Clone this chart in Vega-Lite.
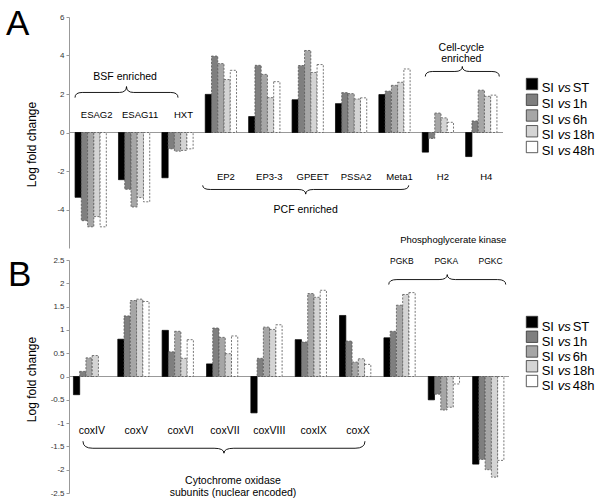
{
  "$schema": "https://vega.github.io/schema/vega-lite/v6.json",
  "padding": {"left": 5, "top": 7, "right": 0, "bottom": 0},
  "config": {"view": {"stroke": null}, "font": "Liberation Sans"},
  "datasets": {
    "A": [
      {"gene": "ESAG2", "series": "SI vs ST", "value": -3.37},
      {"gene": "ESAG2", "series": "SI vs 1h", "value": -4.58},
      {"gene": "ESAG2", "series": "SI vs 6h", "value": -4.9},
      {"gene": "ESAG2", "series": "SI vs 18h", "value": -4.37},
      {"gene": "ESAG2", "series": "SI vs 48h", "value": -4.9},
      {"gene": "ESAG11", "series": "SI vs ST", "value": -2.45},
      {"gene": "ESAG11", "series": "SI vs 1h", "value": -2.95},
      {"gene": "ESAG11", "series": "SI vs 6h", "value": -3.87},
      {"gene": "ESAG11", "series": "SI vs 18h", "value": -3.38},
      {"gene": "ESAG11", "series": "SI vs 48h", "value": -3.6},
      {"gene": "HXT", "series": "SI vs ST", "value": -2.35},
      {"gene": "HXT", "series": "SI vs 1h", "value": -0.85},
      {"gene": "HXT", "series": "SI vs 6h", "value": -0.97},
      {"gene": "HXT", "series": "SI vs 18h", "value": -0.93},
      {"gene": "HXT", "series": "SI vs 48h", "value": -0.85},
      {"gene": "EP2", "series": "SI vs ST", "value": 1.98},
      {"gene": "EP2", "series": "SI vs 1h", "value": 3.97},
      {"gene": "EP2", "series": "SI vs 6h", "value": 3.58},
      {"gene": "EP2", "series": "SI vs 18h", "value": 2.75},
      {"gene": "EP2", "series": "SI vs 48h", "value": 3.23},
      {"gene": "EP3-3", "series": "SI vs ST", "value": 0.83},
      {"gene": "EP3-3", "series": "SI vs 1h", "value": 3.49},
      {"gene": "EP3-3", "series": "SI vs 6h", "value": 3.02},
      {"gene": "EP3-3", "series": "SI vs 18h", "value": 1.81},
      {"gene": "EP3-3", "series": "SI vs 48h", "value": 2.64},
      {"gene": "GPEET", "series": "SI vs ST", "value": 1.7},
      {"gene": "GPEET", "series": "SI vs 1h", "value": 3.48},
      {"gene": "GPEET", "series": "SI vs 6h", "value": 4.26},
      {"gene": "GPEET", "series": "SI vs 18h", "value": 3.12},
      {"gene": "GPEET", "series": "SI vs 48h", "value": 3.53},
      {"gene": "PSSA2", "series": "SI vs ST", "value": 1.5},
      {"gene": "PSSA2", "series": "SI vs 1h", "value": 2.07},
      {"gene": "PSSA2", "series": "SI vs 6h", "value": 2.02},
      {"gene": "PSSA2", "series": "SI vs 18h", "value": 1.74},
      {"gene": "PSSA2", "series": "SI vs 48h", "value": 1.8},
      {"gene": "Meta1", "series": "SI vs ST", "value": 1.97},
      {"gene": "Meta1", "series": "SI vs 1h", "value": 2.15},
      {"gene": "Meta1", "series": "SI vs 6h", "value": 2.45},
      {"gene": "Meta1", "series": "SI vs 18h", "value": 2.61},
      {"gene": "Meta1", "series": "SI vs 48h", "value": 3.3},
      {"gene": "H2", "series": "SI vs ST", "value": -1.02},
      {"gene": "H2", "series": "SI vs 1h", "value": -0.31},
      {"gene": "H2", "series": "SI vs 6h", "value": 1.01},
      {"gene": "H2", "series": "SI vs 18h", "value": 0.76},
      {"gene": "H2", "series": "SI vs 48h", "value": 0.53},
      {"gene": "H4", "series": "SI vs ST", "value": -1.25},
      {"gene": "H4", "series": "SI vs 1h", "value": 0.6},
      {"gene": "H4", "series": "SI vs 6h", "value": 2.2},
      {"gene": "H4", "series": "SI vs 18h", "value": 1.88},
      {"gene": "H4", "series": "SI vs 48h", "value": 1.94}
    ],
    "B": [
      {"gene": "coxIV", "series": "SI vs ST", "value": -0.39},
      {"gene": "coxIV", "series": "SI vs 1h", "value": 0.11},
      {"gene": "coxIV", "series": "SI vs 6h", "value": 0.4},
      {"gene": "coxIV", "series": "SI vs 18h", "value": 0.45},
      {"gene": "coxV", "series": "SI vs ST", "value": 0.8},
      {"gene": "coxV", "series": "SI vs 1h", "value": 1.3},
      {"gene": "coxV", "series": "SI vs 6h", "value": 1.63},
      {"gene": "coxV", "series": "SI vs 18h", "value": 1.66},
      {"gene": "coxV", "series": "SI vs 48h", "value": 1.61},
      {"gene": "coxVI", "series": "SI vs ST", "value": 0.99},
      {"gene": "coxVI", "series": "SI vs 1h", "value": 0.53},
      {"gene": "coxVI", "series": "SI vs 6h", "value": 0.97},
      {"gene": "coxVI", "series": "SI vs 18h", "value": 0.39},
      {"gene": "coxVI", "series": "SI vs 48h", "value": 0.79},
      {"gene": "coxVII", "series": "SI vs ST", "value": 0.27},
      {"gene": "coxVII", "series": "SI vs 1h", "value": 1.04},
      {"gene": "coxVII", "series": "SI vs 6h", "value": 0.84},
      {"gene": "coxVII", "series": "SI vs 18h", "value": 0.49},
      {"gene": "coxVII", "series": "SI vs 48h", "value": 0.87},
      {"gene": "coxVIII", "series": "SI vs ST", "value": -0.78},
      {"gene": "coxVIII", "series": "SI vs 1h", "value": 0.39},
      {"gene": "coxVIII", "series": "SI vs 6h", "value": 1.06},
      {"gene": "coxVIII", "series": "SI vs 18h", "value": 1.01},
      {"gene": "coxVIII", "series": "SI vs 48h", "value": 1.11},
      {"gene": "coxIX", "series": "SI vs ST", "value": 0.79},
      {"gene": "coxIX", "series": "SI vs 1h", "value": 0.74},
      {"gene": "coxIX", "series": "SI vs 6h", "value": 1.78},
      {"gene": "coxIX", "series": "SI vs 18h", "value": 1.7},
      {"gene": "coxIX", "series": "SI vs 48h", "value": 1.85},
      {"gene": "coxX", "series": "SI vs ST", "value": 1.31},
      {"gene": "coxX", "series": "SI vs 1h", "value": 0.76},
      {"gene": "coxX", "series": "SI vs 6h", "value": 0.31},
      {"gene": "coxX", "series": "SI vs 18h", "value": 0.38},
      {"gene": "coxX", "series": "SI vs 48h", "value": 0.26},
      {"gene": "PGKB", "series": "SI vs ST", "value": 0.83},
      {"gene": "PGKB", "series": "SI vs 1h", "value": 0.97},
      {"gene": "PGKB", "series": "SI vs 6h", "value": 1.53},
      {"gene": "PGKB", "series": "SI vs 18h", "value": 1.76},
      {"gene": "PGKB", "series": "SI vs 48h", "value": 1.8},
      {"gene": "PGKA", "series": "SI vs ST", "value": -0.5},
      {"gene": "PGKA", "series": "SI vs 1h", "value": -0.38},
      {"gene": "PGKA", "series": "SI vs 6h", "value": -0.72},
      {"gene": "PGKA", "series": "SI vs 18h", "value": -0.66},
      {"gene": "PGKA", "series": "SI vs 48h", "value": -0.16},
      {"gene": "PGKC", "series": "SI vs ST", "value": -1.88},
      {"gene": "PGKC", "series": "SI vs 1h", "value": -1.78},
      {"gene": "PGKC", "series": "SI vs 6h", "value": -2.0},
      {"gene": "PGKC", "series": "SI vs 18h", "value": -2.16},
      {"gene": "PGKC", "series": "SI vs 48h", "value": -1.8}
    ],
    "legend": [
      {"series": "SI vs ST", "pre": "SI", "mid": "vs", "post": "ST"},
      {"series": "SI vs 1h", "pre": "SI", "mid": "vs", "post": "1h"},
      {"series": "SI vs 6h", "pre": "SI", "mid": "vs", "post": "6h"},
      {"series": "SI vs 18h", "pre": "SI", "mid": "vs", "post": "18h"},
      {"series": "SI vs 48h", "pre": "SI", "mid": "vs", "post": "48h"}
    ]
  },
  "columns": 2,
  "bounds": "flush",
  "spacing": {"row": 12, "column": 17},
  "concat": [
    {
      "width": 434,
      "height": 231,
      "data": {"name": "A"},
      "layer": [
        {
          "data": {"values": [{}]},
          "mark": {"type": "rule", "color": "#999999", "strokeWidth": 1},
          "encoding": {"y": {"datum": 0}}
        },
        {
          "mark": {"type": "bar", "strokeWidth": 0.8},
          "encoding": {
            "x": {"field": "gene", "type": "nominal", "scale": {"domain": ["ESAG2", "ESAG11", "HXT", "EP2", "EP3-3", "GPEET", "PSSA2", "Meta1", "H2", "H4"], "paddingInner": 0.28, "paddingOuter": 0.14}, "axis": null},
            "xOffset": {"field": "series", "type": "nominal", "scale": {"domain": ["SI vs ST", "SI vs 1h", "SI vs 6h", "SI vs 18h", "SI vs 48h"]}},
            "y": {"field": "value", "type": "quantitative", "scale": {"domain": [-6, 6], "nice": false},
              "axis": {"values": [-4, -2, 0, 2, 4, 6], "tickCount": 12, "labelOverlap": false, "labelExpr": "'' + datum.value", "grid": false, "title": "Log fold change", "titleFontSize": 12, "titleFontWeight": "normal", "titleColor": "#000000", "titleX": -31, "titleY": 127, "titleAlign": "center", "titleBaseline": "bottom", "labelFontSize": 8, "labelColor": "#333333", "labelPadding": 2, "tickSize": 3, "tickColor": "#999999", "domainColor": "#999999"}},
            "fill": {"field": "series", "type": "nominal", "scale": {"domain": ["SI vs ST", "SI vs 1h", "SI vs 6h", "SI vs 18h", "SI vs 48h"], "range": ["#000000", "#7f7f7f", "#a6a6a6", "#d4d4d4", "#ffffff"]}, "legend": null},
            "stroke": {"condition": {"test": "datum.series === 'SI vs ST'", "value": "#000000"}, "value": "#555555"},
            "strokeDash": {"condition": {"test": "datum.series === 'SI vs ST'", "value": [1, 0]}, "value": [2, 1.5]}
          }
        },
        {
          "transform": [{"filter": {"field": "series", "equal": "SI vs ST"}}, {"filter": {"field": "gene", "oneOf": ["ESAG2", "ESAG11", "HXT"]}}],
          "mark": {"type": "text", "fontSize": 9.5, "dx": 6, "color": "#000000"},
          "encoding": {"x": {"field": "gene", "type": "nominal"}, "y": {"datum": 0.93}, "text": {"field": "gene"}}
        },
        {
          "transform": [{"filter": {"field": "series", "equal": "SI vs ST"}}, {"filter": {"field": "gene", "oneOf": ["EP2", "EP3-3", "GPEET", "PSSA2", "Meta1", "H2", "H4"]}}],
          "mark": {"type": "text", "fontSize": 9.5, "dx": 5, "color": "#000000"},
          "encoding": {"x": {"field": "gene", "type": "nominal"}, "y": {"datum": -2.31}, "text": {"field": "gene"}}
        },
        {
          "data": {"values": [{}]},
          "mark": {"type": "text", "text": "BSF enriched", "fontSize": 10.5, "dx": -9, "color": "#000000"},
          "encoding": {"x": {"datum": "ESAG11"}, "y": {"datum": 2.86}}
        },
        {
          "data": {"values": [{}]},
          "mark": {"type": "point", "shape": "M-1,0.1 Q-1,0 -0.86,0 L-0.14,0 Q0,0 0,-0.115 Q0,0 0.14,0 L0.86,0 Q1,0 1,0.1", "size": 10609, "filled": false, "opacity": 1, "stroke": "#000000", "strokeWidth": 0.9, "xOffset": -7.6},
          "encoding": {"x": {"datum": "ESAG11"}, "y": {"datum": 2.08}}
        },
        {
          "data": {"values": [{}]},
          "mark": {"type": "text", "text": "PCF enriched", "fontSize": 10.5, "dx": -2, "color": "#000000"},
          "encoding": {"x": {"datum": "GPEET"}, "y": {"datum": -4.05}}
        },
        {
          "data": {"values": [{}]},
          "mark": {"type": "point", "shape": "M-1,-0.04 Q-1,0 -0.925,0 L-0.075,0 Q0,0 0,0.045 Q0,0 0.075,0 L0.925,0 Q1,0 1,-0.04", "size": 42436, "filled": false, "opacity": 1, "stroke": "#000000", "strokeWidth": 0.9, "xOffset": -2},
          "encoding": {"x": {"datum": "GPEET"}, "y": {"datum": -2.96}}
        },
        {
          "data": {"values": [{}]},
          "mark": {"type": "text", "text": ["Cell-cycle", "enriched"], "lineHeight": 11.5, "fontSize": 10.5, "dx": -20, "color": "#000000"},
          "encoding": {"x": {"datum": "H4"}, "y": {"datum": 4.39}}
        },
        {
          "data": {"values": [{}]},
          "mark": {"type": "point", "shape": "M-1,0.135 Q-1,0 -0.8,0 L-0.2,0 Q0,0 0,-0.135 Q0,0 0.2,0 L0.8,0 Q1,0 1,0.135", "size": 5476, "filled": false, "opacity": 1, "stroke": "#000000", "strokeWidth": 0.9, "xOffset": -19},
          "encoding": {"x": {"datum": "H4"}, "y": {"datum": 3.17}}
        },
        {
          "data": {"values": [{}]},
          "mark": {"type": "text", "text": "A", "fontSize": 35, "align": "left", "baseline": "alphabetic", "dx": -84.7, "dy": 18, "color": "#000000"},
          "encoding": {"x": {"datum": "ESAG2"}, "y": {"datum": 6}}
        }
      ]
    },
    {
      "width": 65,
      "height": 231,
      "data": {"name": "legend"},
      "encoding": {
        "y": {"field": "series", "type": "nominal", "scale": {"type": "point", "domain": ["SI vs ST", "SI vs 1h", "SI vs 6h", "SI vs 18h", "SI vs 48h"], "range": [71, 134], "padding": 0}, "axis": null},
        "x": {"datum": 0, "type": "quantitative", "scale": {"domain": [0, 1]}, "axis": null}
      },
      "layer": [
        {
          "mark": {"type": "point", "shape": "square", "size": 130, "filled": true, "opacity": 1, "stroke": "#333333", "strokeWidth": 0.8, "xOffset": 6, "yOffset": -4},
          "encoding": {"fill": {"field": "series", "type": "nominal", "scale": {"domain": ["SI vs ST", "SI vs 1h", "SI vs 6h", "SI vs 18h", "SI vs 48h"], "range": ["#000000", "#7f7f7f", "#a6a6a6", "#d4d4d4", "#ffffff"]}, "legend": null}}
        },
        {"mark": {"type": "text", "align": "left", "fontSize": 13, "dx": 15.7, "color": "#000000"}, "encoding": {"text": {"field": "pre"}}},
        {"mark": {"type": "text", "align": "left", "fontSize": 13, "fontStyle": "italic", "dx": 31.7, "color": "#000000"}, "encoding": {"text": {"field": "mid"}}},
        {"mark": {"type": "text", "align": "left", "fontSize": 13, "dx": 46.7, "color": "#000000"}, "encoding": {"text": {"field": "post"}}}
      ]
    },
    {
      "width": 440,
      "height": 233,
      "data": {"name": "B"},
      "layer": [
        {
          "data": {"values": [{}]},
          "mark": {"type": "rule", "color": "#999999", "strokeWidth": 1},
          "encoding": {"y": {"datum": 0}}
        },
        {
          "mark": {"type": "bar", "strokeWidth": 0.8},
          "encoding": {
            "x": {"field": "gene", "type": "nominal", "scale": {"domain": ["coxIV", "coxV", "coxVI", "coxVII", "coxVIII", "coxIX", "coxX", "PGKB", "PGKA", "PGKC"], "paddingInner": 0.28, "paddingOuter": 0.1}, "axis": null},
            "xOffset": {"field": "series", "type": "nominal", "scale": {"domain": ["SI vs ST", "SI vs 1h", "SI vs 6h", "SI vs 18h", "SI vs 48h"]}},
            "y": {"field": "value", "type": "quantitative", "scale": {"domain": [-2.5, 2.5], "nice": false},
              "axis": {"values": [-2.5, -2, -1.5, -1, -0.5, 0, 0.5, 1, 1.5, 2, 2.5], "tickCount": 12, "labelOverlap": false, "labelExpr": "'' + datum.value", "grid": false, "title": "Log fold change", "titleFontSize": 12, "titleFontWeight": "normal", "titleColor": "#000000", "titleX": -31, "titleY": 119, "titleAlign": "center", "titleBaseline": "bottom", "labelFontSize": 8, "labelColor": "#333333", "labelPadding": 2, "tickSize": 3, "tickColor": "#999999", "domainColor": "#999999"}},
            "fill": {"field": "series", "type": "nominal", "scale": {"domain": ["SI vs ST", "SI vs 1h", "SI vs 6h", "SI vs 18h", "SI vs 48h"], "range": ["#000000", "#7f7f7f", "#a6a6a6", "#d4d4d4", "#ffffff"]}, "legend": null},
            "stroke": {"condition": {"test": "datum.series === 'SI vs ST'", "value": "#000000"}, "value": "#555555"},
            "strokeDash": {"condition": {"test": "datum.series === 'SI vs ST'", "value": [1, 0]}, "value": [2, 1.5]}
          }
        },
        {
          "transform": [{"filter": {"field": "series", "equal": "SI vs ST"}}, {"filter": {"field": "gene", "oneOf": ["coxIV", "coxV", "coxVI", "coxVII", "coxVIII", "coxIX", "coxX"]}}],
          "mark": {"type": "text", "fontSize": 10.5, "dx": 2.5, "color": "#000000"},
          "encoding": {"x": {"field": "gene", "type": "nominal"}, "y": {"datum": -1.16}, "text": {"field": "gene"}}
        },
        {
          "transform": [{"filter": {"field": "series", "equal": "SI vs ST"}}, {"filter": {"field": "gene", "oneOf": ["PGKB", "PGKA", "PGKC"]}}],
          "mark": {"type": "text", "fontSize": 8.5, "dx": 2, "color": "#000000"},
          "encoding": {"x": {"field": "gene", "type": "nominal"}, "y": {"datum": 2.47}, "text": {"field": "gene"}}
        },
        {
          "data": {"values": [{}]},
          "mark": {"type": "text", "text": "Phosphoglycerate kinase", "fontSize": 9.5, "dx": 9, "color": "#000000"},
          "encoding": {"x": {"datum": "PGKA"}, "y": {"datum": 2.93}}
        },
        {
          "data": {"values": [{}]},
          "mark": {"type": "point", "shape": "M-1,0.085 Q-1,0 -0.86,0 L-0.14,0 Q0,0 0,-0.085 Q0,0 0.14,0 L0.86,0 Q1,0 1,0.085", "size": 13689, "filled": false, "opacity": 1, "stroke": "#000000", "strokeWidth": 0.9, "xOffset": 3},
          "encoding": {"x": {"datum": "PGKA"}, "y": {"datum": 2.08}}
        },
        {
          "data": {"values": [{}]},
          "mark": {"type": "point", "shape": "M-1,-0.05 Q-1,0 -0.93,0 L-0.07,0 Q0,0 0,0.035 Q0,0 0.07,0 L0.93,0 Q1,0 1,-0.05", "size": 79524, "filled": false, "opacity": 1, "stroke": "#000000", "strokeWidth": 0.9, "xOffset": 1.5},
          "encoding": {"x": {"datum": "coxVII"}, "y": {"datum": -1.54}}
        },
        {
          "data": {"values": [{}]},
          "mark": {"type": "text", "text": ["Cytochrome oxidase", "subunits (nuclear encoded)"], "lineHeight": 12.4, "fontSize": 10.5, "dx": 10.5, "color": "#000000"},
          "encoding": {"x": {"datum": "coxVII"}, "y": {"datum": -2.24}}
        },
        {
          "data": {"values": [{}]},
          "mark": {"type": "text", "text": "B", "fontSize": 35, "align": "left", "baseline": "alphabetic", "dx": -81.4, "dy": 26, "color": "#000000"},
          "encoding": {"x": {"datum": "coxIV"}, "y": {"datum": 2.5}}
        }
      ]
    },
    {
      "width": 65,
      "height": 233,
      "data": {"name": "legend"},
      "encoding": {
        "y": {"field": "series", "type": "nominal", "scale": {"type": "point", "domain": ["SI vs ST", "SI vs 1h", "SI vs 6h", "SI vs 18h", "SI vs 48h"], "range": [67, 126], "padding": 0}, "axis": null},
        "x": {"datum": 0, "type": "quantitative", "scale": {"domain": [0, 1]}, "axis": null}
      },
      "layer": [
        {
          "mark": {"type": "point", "shape": "square", "size": 130, "filled": true, "opacity": 1, "stroke": "#333333", "strokeWidth": 0.8, "xOffset": 6, "yOffset": -5},
          "encoding": {"fill": {"field": "series", "type": "nominal", "scale": {"domain": ["SI vs ST", "SI vs 1h", "SI vs 6h", "SI vs 18h", "SI vs 48h"], "range": ["#000000", "#7f7f7f", "#a6a6a6", "#d4d4d4", "#ffffff"]}, "legend": null}}
        },
        {"mark": {"type": "text", "align": "left", "fontSize": 13, "dx": 15.7, "color": "#000000"}, "encoding": {"text": {"field": "pre"}}},
        {"mark": {"type": "text", "align": "left", "fontSize": 13, "fontStyle": "italic", "dx": 31.7, "color": "#000000"}, "encoding": {"text": {"field": "mid"}}},
        {"mark": {"type": "text", "align": "left", "fontSize": 13, "dx": 46.7, "color": "#000000"}, "encoding": {"text": {"field": "post"}}}
      ]
    }
  ]
}
